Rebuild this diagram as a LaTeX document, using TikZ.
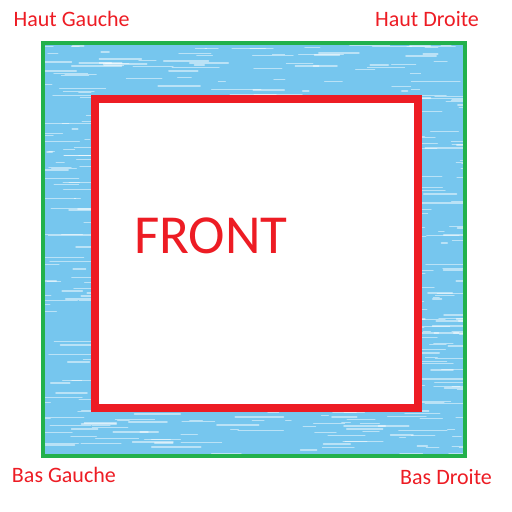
\documentclass[tikz,border=0pt]{standalone}
\usepackage{fontspec}
\setmainfont{Carlito}
\definecolor{vert}{RGB}{34,177,76}
\definecolor{rouge}{RGB}{237,28,36}
\definecolor{bleu}{RGB}{118,198,238}
\tikzset{
etiquette/.style={anchor=base west,inner sep=0pt,text=rouge,font=\fontsize{22}{26}\selectfont},
cadre/.style={draw=vert,line width=4pt},
carre/.style={draw=rouge,line width=8pt,fill=white},
trait/.style={draw=white,line cap=round,opacity=0.5}}

\begin{document}
\begin{tikzpicture}[x=1pt,y=-1pt]
\useasboundingbox (0,0) rectangle (512,512);

% zone bleue
\fill[bleu] (43,43) rectangle (465,456);
\begin{scope}
\clip (45,45) rectangle (463,454);
\pgfmathsetseed{11}
\foreach \i in {1,...,700}{
  \pgfmathsetmacro{\xa}{30+433*rnd}
  \pgfmathsetmacro{\ya}{45+409*rnd}
  \pgfmathsetmacro{\lg}{5+45*rnd}
  \pgfmathsetmacro{\ep}{0.5+1.5*rnd}
  \draw[trait,line width=\ep pt] (\xa,\ya) -- ++(\lg,0);
}
\end{scope}

\draw[cadre] (43,43) rectangle (465,456);
\draw[carre] (94.7,98.5) rectangle (418,408);

\node[etiquette] (hg) at (13.5,26.7) {Haut Gauche};
\node[etiquette] (hd) at (375,26) {Haut Droite};
\node[etiquette] (bg) at (11.8,482.3) {Bas Gauche};
\node[etiquette] (bd) at (400,484.3) {Bas Droite};
\node[etiquette,font=\fontsize{55}{60}\selectfont] (front) at (134,253.3) {FRONT};

\end{tikzpicture}
\end{document}
